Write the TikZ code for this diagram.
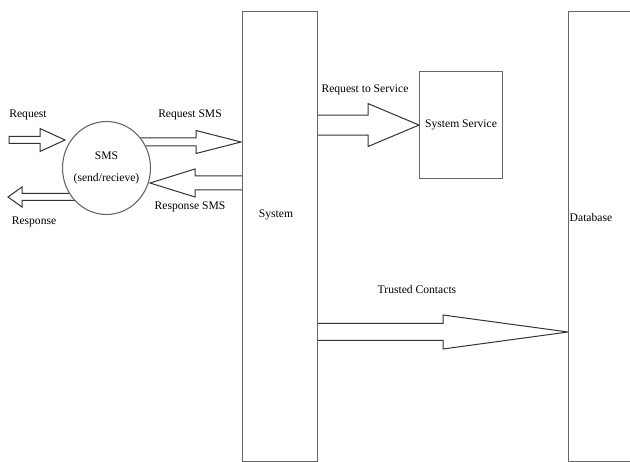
\documentclass[tikz,border=0pt]{standalone}
\usepackage{fontspec}
\setmainfont{Liberation Serif}
\usetikzlibrary{calc,shapes.geometric,backgrounds}

% hollow block arrow: start, tip, shaft half-width, head half-width, head length (negative = leftwards)
\newcommand{\blockarrow}[5]{%
  \draw[blockline] ($(#1|-#2)+(0,{-(#3)})$) -- ($(#2)+({-(#5)},{-(#3)})$)
    -- ($(#2)+({-(#5)},{-(#4)})$) -- (#2) -- ($(#2)+({-(#5)},#4)$)
    -- ($(#2)+({-(#5)},#3)$) -- ($(#1|-#2)+(0,#3)$) -- cycle;}

\begin{document}
\begin{tikzpicture}[x=1pt, y=-1pt,
    box/.style={draw=black!60, line width=1.1pt, fill=white, inner sep=0pt},
    blockline/.style={draw=black!80, line width=1pt, fill=white},
    lbl/.style={font=\rmfamily\fontsize{11.6}{14}\selectfont, inner sep=1pt}]
  \useasboundingbox (0,0) rectangle (630,462);
  \clip (0,0) rectangle (630,462);

  % Blocks
  \node[box, minimum width=75pt, minimum height=450pt, anchor=north west] (sys) at (242,11) {};
  \node[box, minimum width=83pt, minimum height=107pt, anchor=north west, lbl] (svc) at (419,71) {System Service};
  \node[box, minimum width=100pt, minimum height=450pt, anchor=north west] (db) at (568,11) {};
  \node[box, ellipse, minimum width=88pt, minimum height=93pt] (sms) at (106.5,168) {};
  \node[lbl, align=center] (smslbl) at (sms.center) {SMS\\[8pt](send/recieve)};

  % Arrow ends
  \coordinate (reqin) at (9,140);
  \coordinate (reqtip) at (65,140);
  \coordinate (resptip) at (8,197);
  \coordinate (smsreqtip) at (241,142);
  \coordinate (smsresptip) at (150,183);
  \coordinate (dbtip) at (db.west |- 0,332);

  % Block arrows, behind the blocks
  \begin{scope}[on background layer]
    \blockarrow{reqin}{reqtip}{3.5}{11.5}{25}
    \blockarrow{sms.center}{resptip}{3.5}{10}{-14}
    \blockarrow{sms.center}{smsreqtip}{4}{11.5}{45}
    \blockarrow{sys.center}{smsresptip}{7}{14}{-45}
    \blockarrow{sys.center}{svc.west}{10}{21.5}{51}
    \blockarrow{sys.center}{dbtip}{8.5}{17}{125}
  \end{scope}

  % Labels
  \node[lbl] (lreq) at (28,115) {Request};
  \node[lbl] (lresp) at (34,222) {Response};
  \node[lbl] (lreqsms) at (190,115) {Request SMS};
  \node[lbl] (lrespsms) at (190,207) {Response SMS};
  \node[lbl] (lreqsvc) at (365,90) {Request to Service};
  \node[lbl] (ltrust) at (417,290) {Trusted Contacts};
  \node[lbl] (lsys) at (276,215) {System};
  \node[lbl] (ldb) at (591,218) {Database};
\end{tikzpicture}
\end{document}
